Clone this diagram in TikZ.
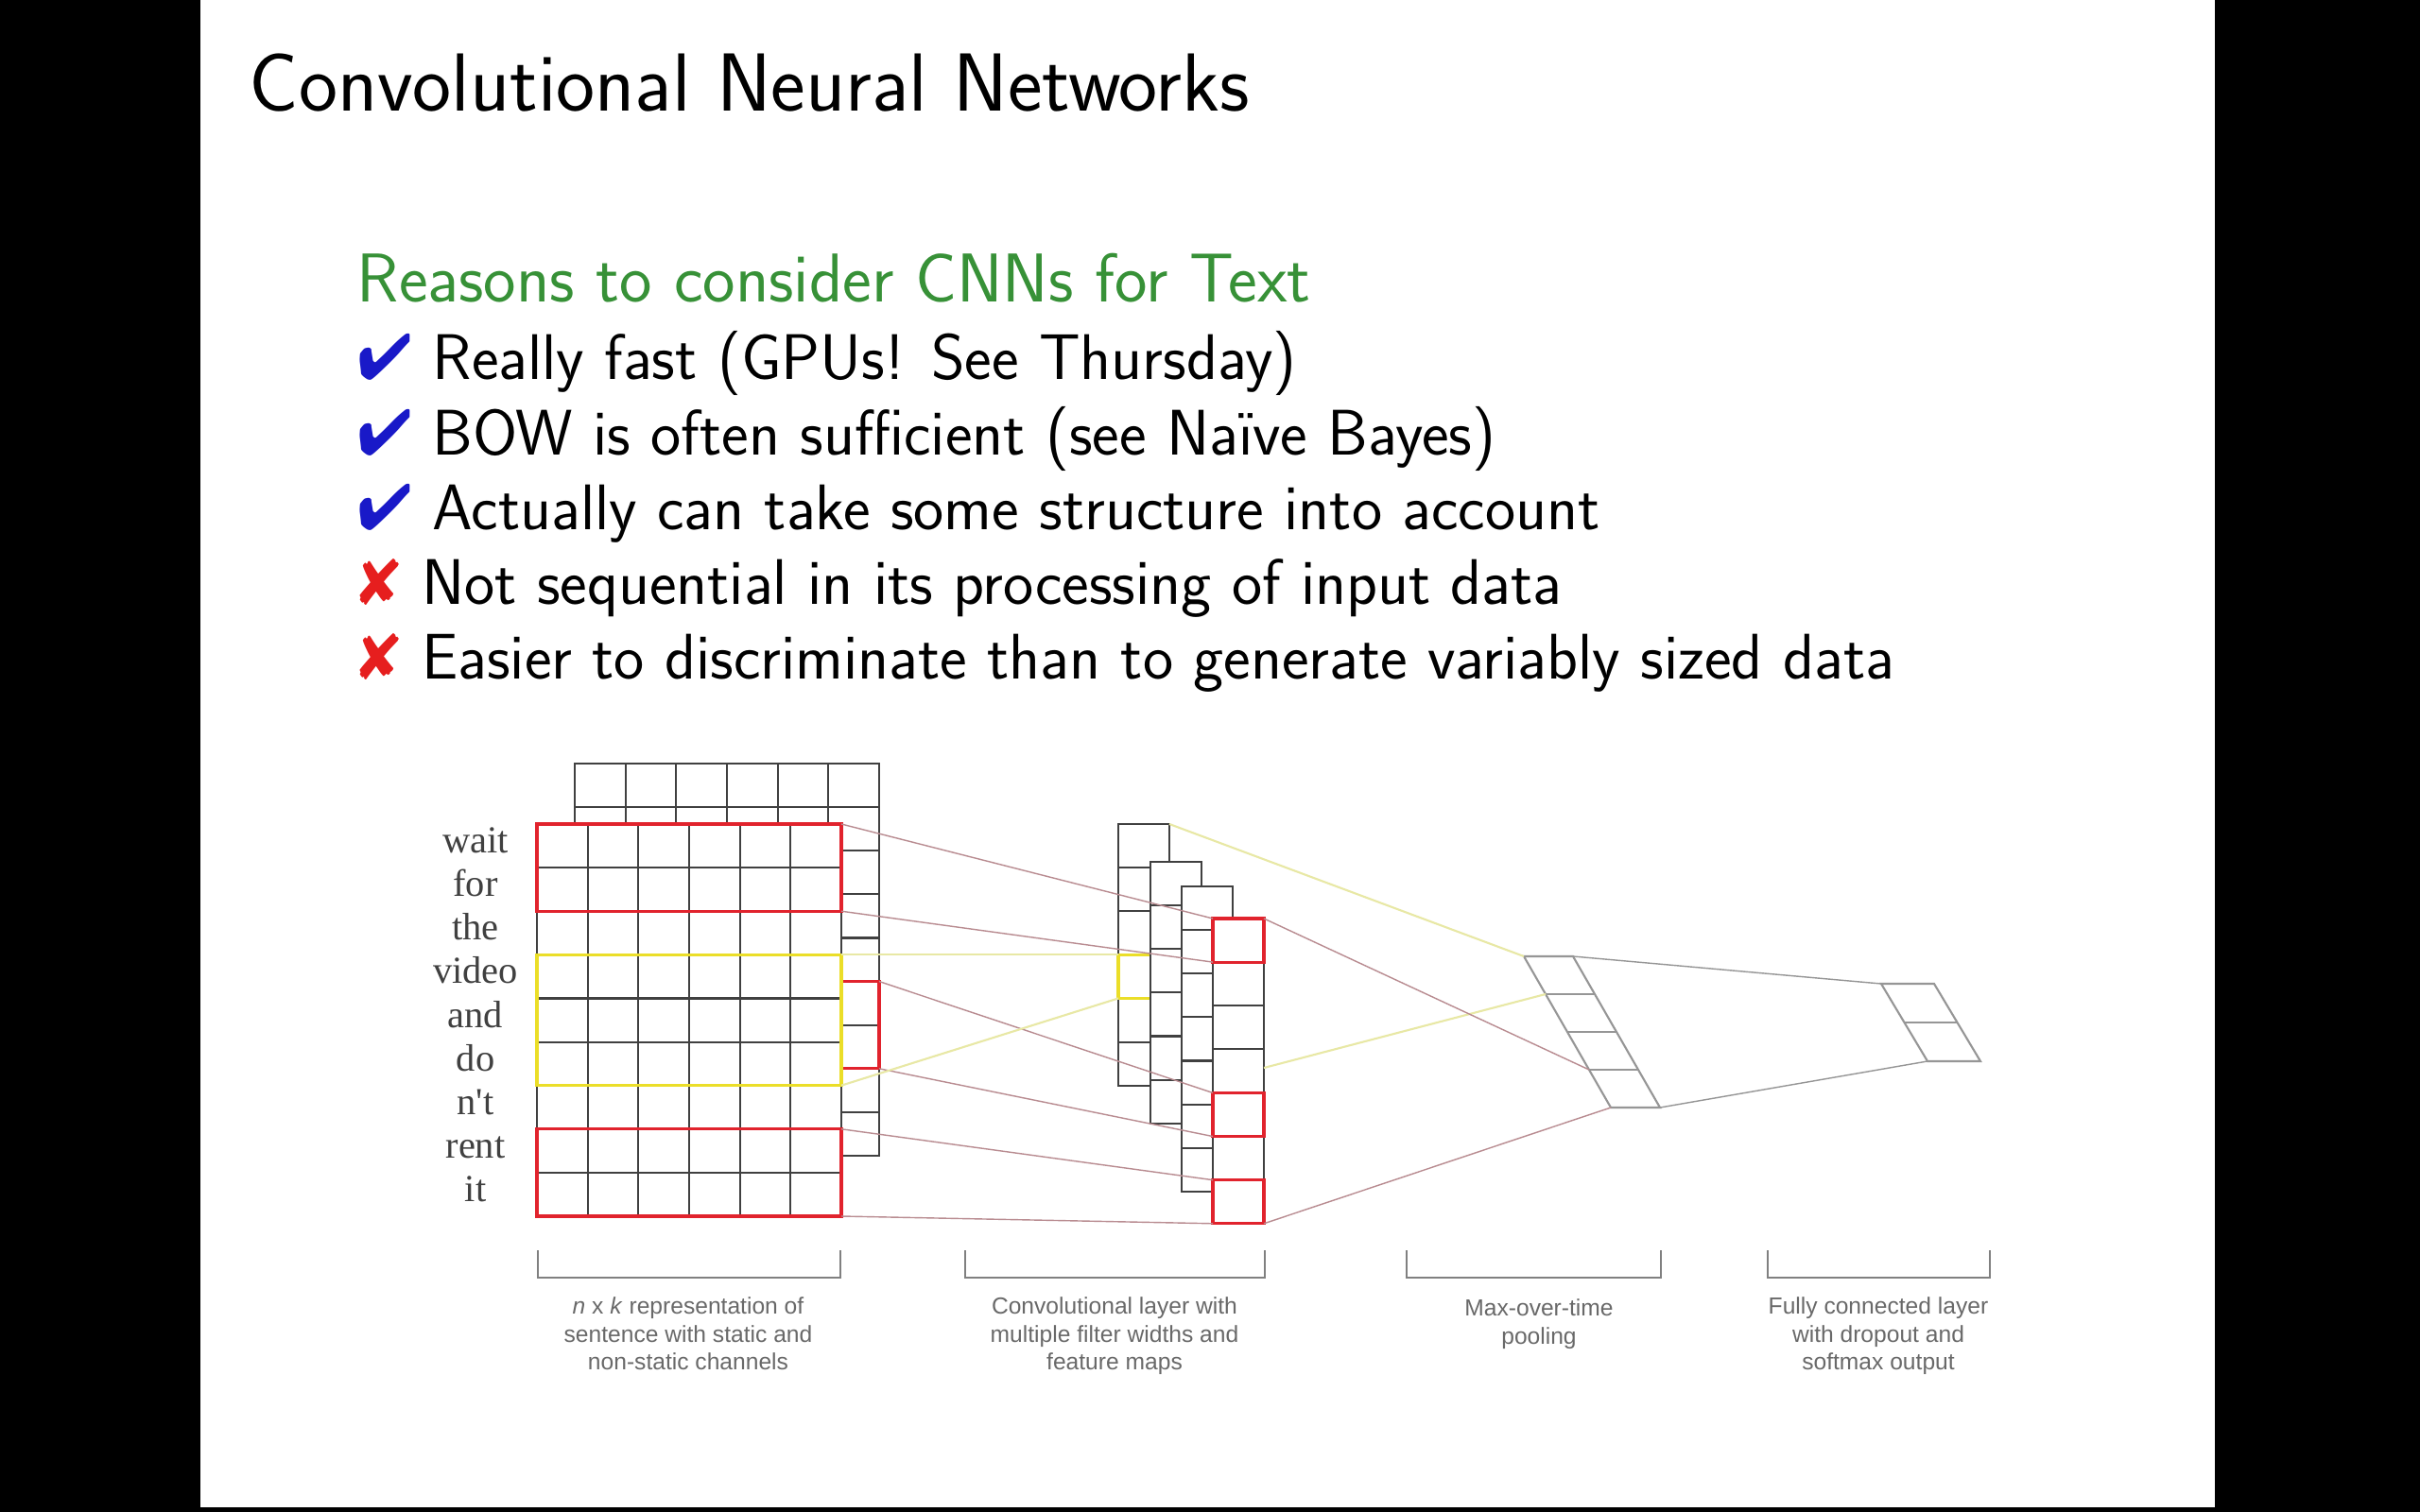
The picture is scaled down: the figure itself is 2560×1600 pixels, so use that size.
\documentclass[tikz,border=0pt]{standalone}
\usepackage{fontspec}
\usepackage{pifont}
\newfontfamily\wordfont{Liberation Serif}
\newfontfamily\capfont{Liberation Sans}
\definecolor{headgreen}{RGB}{55,145,55}
\definecolor{checkblue}{RGB}{25,25,200}
\definecolor{crossred}{RGB}{230,30,30}
\definecolor{boxred}{RGB}{225,35,45}
\definecolor{boxyellow}{RGB}{235,222,40}
\definecolor{linkred}{RGB}{185,140,145}
\definecolor{linkyellow}{RGB}{232,232,165}
\definecolor{poolgray}{RGB}{150,150,150}
\definecolor{capgray}{RGB}{105,105,105}
\newcommand{\goodmark}{{\color{checkblue}\ding{52}}}
\newcommand{\badmark}{{\color{crossred}\ding{56}}}
\tikzset{
  cell/.style={draw=black!75, line width=0.6pt},
  redbox/.style={draw=boxred, line width=0.9pt},
  yelbox/.style={draw=boxyellow, line width=0.9pt},
  link/.style={draw=linkred, line width=0.4pt},
  ylink/.style={draw=linkyellow, line width=0.6pt},
  pool/.style={draw=poolgray, line width=0.6pt},
  plink/.style={draw=poolgray, line width=0.4pt},
  bracket/.style={draw=poolgray!85!black, line width=0.5pt},
  item/.style={anchor=base west, inner sep=0pt, font=\fontsize{19.4}{23}\selectfont\sffamily},
  word/.style={anchor=mid, font=\wordfont\fontsize{11.5}{13}\selectfont, text=black!75},
  caption/.style={anchor=north, inner sep=0pt, align=center, text=capgray,
    font=\capfont\fontsize{7}{8.4}\selectfont}
}
\begin{document}
\begin{tikzpicture}[x=0.01cm,y=-0.01cm]
  % slide
  \fill[black] (0,0) rectangle (2560,1600);
  \fill[white] (212,0) rectangle (2343,1595);

  \node[anchor=base west, inner sep=0pt, font=\fontsize{24.8}{29}\selectfont\sffamily] (title) at (263,118) {Convolutional Neural Networks};
  \node[anchor=base west, inner sep=0pt, font=\fontsize{20.8}{25}\selectfont\sffamily, text=headgreen] (head) at (377,320) {Reasons to consider CNNs for Text};
  \node[item] (pro1) at (378,401) {\goodmark\ Really fast (GPUs! See Thursday)};
  \node[item] (pro2) at (378,481) {\goodmark\ BOW is often sufficient (see Naïve Bayes)};
  \node[item] (pro3) at (378,560) {\goodmark\ Actually can take some structure into account};
  \node[item] (con1) at (378,639) {\badmark\ Not sequential in its processing of input data};
  \node[item] (con2) at (378,718) {\badmark\ Easier to discriminate than to generate variably sized data};

  % input matrix, channel behind
  \draw[cell, fill=white] (608,808) rectangle (930,1223);
  \foreach \c in {1,...,5} \draw[cell] (608+\c*53.67,808) -- (608+\c*53.67,1223);
  \foreach \r in {1,...,8} \draw[cell] (608,808+\r*46.11) -- (930,808+\r*46.11);
  \draw[redbox] (608,1038.55) rectangle (930,1130.77);

  % input matrix, channel in front
  \draw[cell, fill=white] (568,872) rectangle (890,1287);
  \foreach \c in {1,...,5} \draw[cell] (568+\c*53.67,872) -- (568+\c*53.67,1287);
  \foreach \r in {1,...,8} \draw[cell] (568,872+\r*46.11) -- (890,872+\r*46.11);
  \draw[redbox] (568,872) rectangle (890,964.22);
  \draw[redbox] (568,1194.77) rectangle (890,1287);
  \draw[yelbox] (568,1010.33) rectangle (890,1148.66);

  \foreach \w [count=\i from 0] in {wait,for,the,video,and,do,n't,rent,it}
    \node[word] (word\i) at (503,{895.05+46.11*\i}) {\w};

  % feature maps
  \draw[cell, fill=white] (1183,872) rectangle (1237,1148.66);
  \foreach \r in {1,...,5} \draw[cell] (1183,872+\r*46.11) -- (1237,872+\r*46.11);
  \draw[yelbox] (1183,1010.33) rectangle (1237,1056.44);
  \draw[cell, fill=white] (1217,912) rectangle (1271,1188.66);
  \foreach \r in {1,...,5} \draw[cell] (1217,912+\r*46.11) -- (1271,912+\r*46.11);
  \draw[cell, fill=white] (1250,938) rectangle (1304,1260.77);
  \foreach \r in {1,...,6} \draw[cell] (1250,938+\r*46.11) -- (1304,938+\r*46.11);
  \draw[cell, fill=white] (1283,972) rectangle (1337,1294.77);
  \foreach \r in {1,...,6} \draw[cell] (1283,972+\r*46.11) -- (1337,972+\r*46.11);
  \draw[redbox] (1283,972) rectangle (1337,1018.11);
  \draw[redbox] (1283,1156.44) rectangle (1337,1202.55);
  \draw[redbox] (1283,1248.66) rectangle (1337,1294.77);

  % pooling and output
  \draw[pool] (1612,1012) -- (1664,1012) -- (1756,1172) -- (1704,1172) -- cycle;
  \foreach \k in {1,2,3} \draw[pool] (1612+23*\k,1012+40*\k) -- (1664+23*\k,1012+40*\k);
  \draw[pool] (1990,1041) -- (2046,1041) -- (2095,1123) -- (2039,1123) -- cycle;
  \draw[pool] (2014.5,1082) -- (2070.5,1082);

  \coordinate (in-top) at (890,872);
  \coordinate (in-r2) at (890,964.22);
  \coordinate (in-r3) at (890,1010.33);
  \coordinate (in-r6) at (890,1148.66);
  \coordinate (in-r7) at (890,1194.77);
  \coordinate (in-bot) at (890,1287);
  \coordinate (bk-top) at (930,1038.55);
  \coordinate (bk-bot) at (930,1130.77);
  \coordinate (fm1-tr) at (1237,872);
  \coordinate (fm1-y1) at (1183,1010.33);
  \coordinate (fm1-y2) at (1183,1056.44);
  \coordinate (fm4-a) at (1283,972);
  \coordinate (fm4-b) at (1283,1018.11);
  \coordinate (fm4-c) at (1283,1156.44);
  \coordinate (fm4-d) at (1283,1202.55);
  \coordinate (fm4-e) at (1283,1248.66);
  \coordinate (fm4-f) at (1283,1294.77);
  \coordinate (fm4-tr) at (1337,972);
  \coordinate (fm4-mr) at (1337,1130);
  \coordinate (fm4-br) at (1337,1294.77);
  \coordinate (pool-tl) at (1612,1012);
  \coordinate (pool-1) at (1635,1052);
  \coordinate (pool-3) at (1681,1132);
  \coordinate (pool-tr) at (1664,1012);
  \coordinate (pool-bl) at (1704,1172);
  \coordinate (pool-br) at (1756,1172);
  \coordinate (out-tl) at (1990,1041);
  \coordinate (out-bl) at (2039,1123);

  \draw[link] (in-top) -- (fm4-a);
  \draw[link] (in-r2) -- (fm4-b);
  \draw[link] (bk-top) -- (fm4-c);
  \draw[link] (bk-bot) -- (fm4-d);
  \draw[link] (in-r7) -- (fm4-e);
  \draw[link] (in-bot) -- (fm4-f);
  \draw[ylink] (in-r3) -- (fm1-y1);
  \draw[ylink] (in-r6) -- (fm1-y2);
  \draw[ylink] (fm1-tr) -- (pool-tl);
  \draw[ylink] (fm4-mr) -- (pool-1);
  \draw[link] (fm4-tr) -- (pool-3);
  \draw[link] (fm4-br) -- (pool-bl);
  \draw[plink] (pool-tr) -- (out-tl);
  \draw[plink] (pool-br) -- (out-bl);

  % brackets and captions
  \draw[bracket] (569,1323) -- (569,1352) -- (889,1352) -- (889,1323);
  \draw[bracket] (1021,1323) -- (1021,1352) -- (1338,1352) -- (1338,1323);
  \draw[bracket] (1488,1323) -- (1488,1352) -- (1757,1352) -- (1757,1323);
  \draw[bracket] (1870,1323) -- (1870,1352) -- (2105,1352) -- (2105,1323);
  \node[caption] (cap-input) at (728,1372) {\textit{n} x \textit{k} representation of\\sentence with static and\\non-static channels};
  \node[caption] (cap-conv) at (1179,1372) {Convolutional layer with\\multiple filter widths and\\feature maps};
  \node[caption] (cap-pool) at (1628,1374) {Max-over-time\\pooling};
  \node[caption] (cap-out) at (1987,1372) {Fully connected layer\\with dropout and\\softmax output};
\end{tikzpicture}
\end{document}
